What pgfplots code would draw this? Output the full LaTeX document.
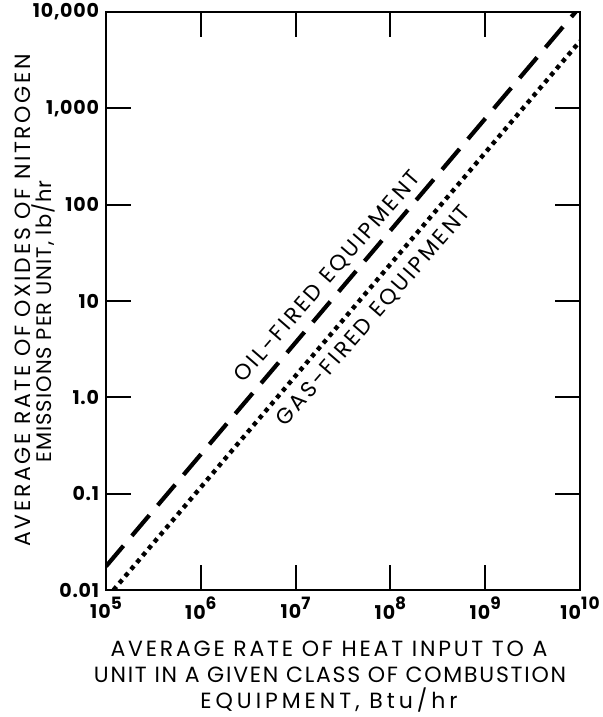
\documentclass[border=0pt]{standalone}
\usepackage{pgfplots}
\pgfplotsset{compat=1.18}
\usepackage{fontspec}
\setmainfont{Poppins}
\newcommand{\ls}[1]{\addfontfeatures{LetterSpace=#1}}
\newcommand{\sx}[1]{10\raisebox{0.5em}{\fontsize{8.5}{9}\selectfont #1}}
\begin{document}
\begin{tikzpicture}
\useasboundingbox (-53pt,-63.5pt) rectangle (248.5pt,295pt);
\begin{axis}[
  scale only axis,
  width=237pt, height=289pt,
  xmode=log, ymode=log,
  xmin=1e5, xmax=1e10, ymin=0.01, ymax=10000,
  xtick={1e5,1e6,1e7,1e8,1e9,1e10},
  xticklabels={\sx{5},\sx{6},\sx{7},\sx{8},\sx{9},\sx{10}},
  ytick={0.01,0.1,1,10,100,1000,10000},
  yticklabels={0.01,0.1,1.0,10,100,{1,000},{10,000}},
  xminorticks=false, yminorticks=false,
  tick align=inside,
  major tick length=12.5pt,
  every tick/.style={black, line width=1pt},
  axis line style={line width=1.2pt},
  yticklabel style={font=\fontsize{9.5}{10}\selectfont\bfseries\ls{4}},
  xticklabel style={font=\fontsize{9.5}{10}\selectfont\bfseries\ls{6}},
  /pgf/number format/assume math mode=true,
  clip=true,
]
\addplot[black, line width=2.1pt, dash pattern=on 13.5pt off 6.5pt] coordinates {(1e5,0.0176) (1e10,11350)};
\addplot[black, line width=2.2pt, dash pattern=on 2.2pt off 2.3pt] coordinates {(1.2e5,0.01) (1e10,4980)};
\node[rotate=49, font=\fontsize{11}{12}\selectfont\ls{12}] at (axis cs:2.2e7,17.7) {OIL-FIRED EQUIPMENT};
\node[rotate=49, font=\fontsize{11}{12}\selectfont\ls{12}] at (axis cs:6.7e7,7.0) {GAS-FIRED EQUIPMENT};
\end{axis}
\node[rotate=90, anchor=west, inner sep=0pt, font=\fontsize{11}{12}\selectfont\ls{12}] at (-41.75pt,21.5pt) {AVERAGE RATE OF OXIDES OF NITROGEN};
\node[rotate=90, anchor=west, inner sep=0pt, font=\fontsize{10.5}{12}\selectfont\ls{5}] at (-31.25pt,63.5pt) {EMISSIONS PER UNIT, lb/hr};
\node[anchor=base, font=\fontsize{11}{12}\selectfont\ls{12.6}] at (111.5pt,-33.5pt) {AVERAGE RATE OF HEAT INPUT TO A};
\node[anchor=base, font=\fontsize{11}{12}\selectfont\ls{8}] at (112pt,-46pt) {UNIT IN A GIVEN CLASS OF COMBUSTION};
\node[anchor=base, font=\fontsize{11}{12}\selectfont\ls{18}] at (111.5pt,-59pt) {EQUIPMENT, Btu/hr};
\end{tikzpicture}
\end{document}
